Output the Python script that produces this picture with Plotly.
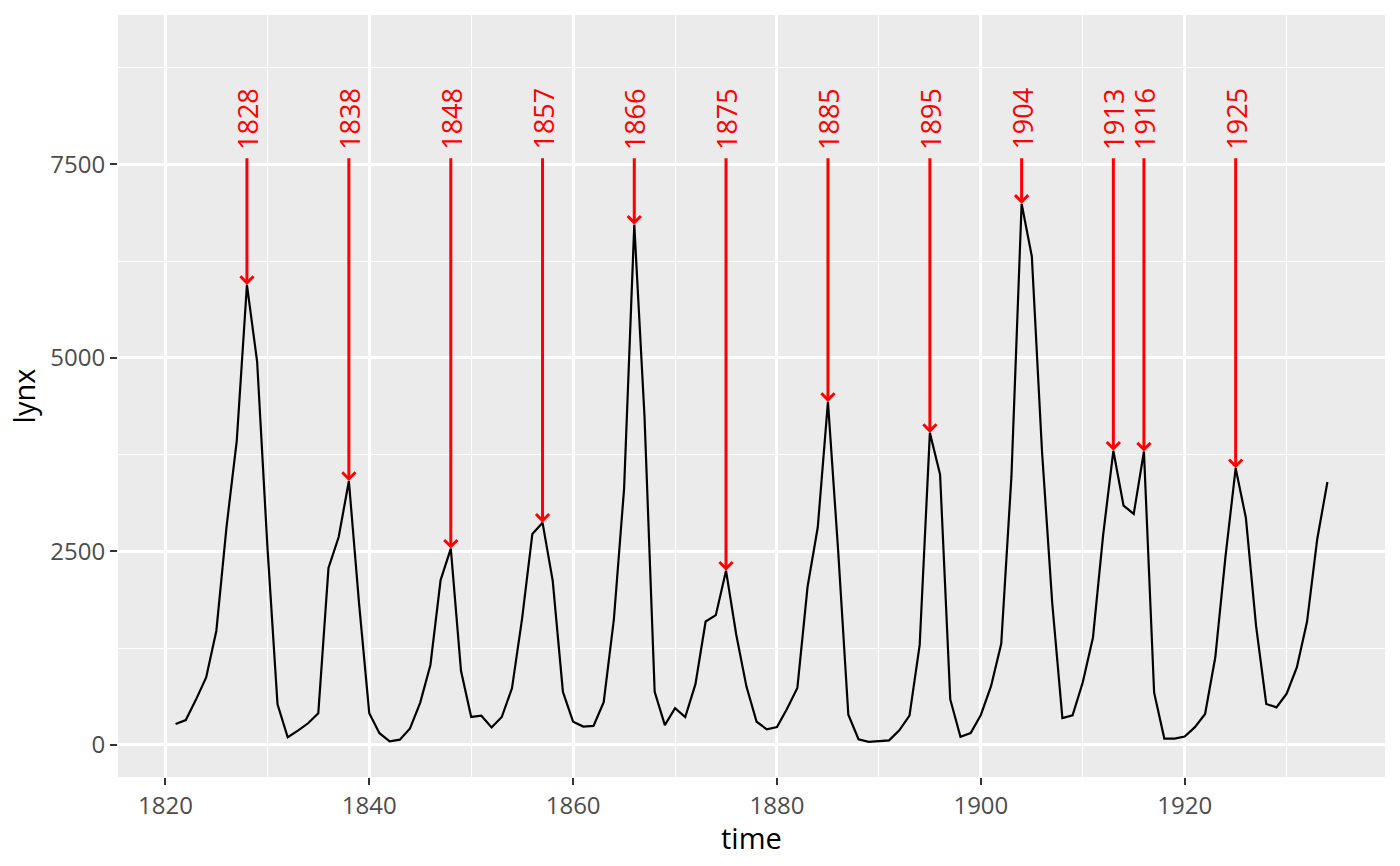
import plotly.graph_objects as go

years = list(range(1821, 1935))
lynx = [269, 321, 585, 871, 1475, 2821, 3928, 5943, 4950, 2577, 523, 98, 184, 279, 409,
        2285, 2685, 3409, 1824, 409, 151, 45, 68, 213, 546, 1033, 2129, 2536, 957, 361,
        377, 225, 360, 731, 1638, 2725, 2871, 2119, 684, 299, 236, 245, 552, 1623, 3311,
        6721, 4254, 687, 255, 473, 358, 784, 1594, 1676, 2251, 1426, 756, 299, 201, 229,
        469, 736, 2042, 2811, 4431, 2511, 389, 73, 39, 49, 59, 188, 377, 1292, 4031,
        3495, 587, 105, 153, 387, 758, 1307, 3465, 6991, 6313, 3794, 1836, 345, 382, 808,
        1388, 2713, 3800, 3091, 2985, 3790, 674, 81, 80, 108, 229, 399, 1132, 2432, 3574,
        2935, 1537, 529, 485, 662, 1000, 1590, 2657, 3396]

peak_years = [1828, 1838, 1848, 1857, 1866, 1875, 1885, 1895, 1904, 1913, 1916, 1925]
peak_values = [lynx[years.index(y)] for y in peak_years]
arrow_start = 7600
label_y = 7660

x_ticks = [1820, 1840, 1860, 1880, 1900, 1920]
y_ticks = [0, 2500, 5000, 7500]

fig = go.Figure()
fig.add_trace(go.Scatter(x=years, y=lynx, mode="lines",
                         line=dict(color="black", width=2.2), showlegend=False,
                         hoverinfo="skip"))

annotations = []
for yr, v in zip(peak_years, peak_values):
    annotations.append(dict(x=yr, y=v, ax=yr, ay=arrow_start, xref="x", yref="y",
                            axref="x", ayref="y", text="", showarrow=True,
                            arrowhead=4, arrowsize=0.85, arrowwidth=3,
                            arrowcolor="#FF0000", standoff=0))
    annotations.append(dict(x=yr, y=label_y, xref="x", yref="y", text=str(yr),
                            showarrow=False, textangle=-90, yanchor="bottom",
                            xanchor="center",
                            font=dict(family="Open Sans", size=27, color="#FF0000")))

annotations.append(dict(x=0.5, y=-0.0795, xref="paper", yref="paper", text="time",
                        showarrow=False, xanchor="center", yanchor="middle", borderpad=0,
                        font=dict(family="Open Sans", size=29, color="black")))

fig.update_layout(
    width=1400, height=866,
    margin=dict(l=118, r=15, t=15, b=89),
    paper_bgcolor="white", plot_bgcolor="#EBEBEB",
    font=dict(family="Open Sans", color="black"),
    annotations=annotations,
    xaxis=dict(range=[1815.35, 1939.65], tickvals=x_ticks, ticktext=[str(t) for t in x_ticks],
               showgrid=True, gridcolor="white", gridwidth=2.6,
               minor=dict(tickvals=[1830, 1850, 1870, 1890, 1910, 1930], showgrid=True,
                          gridcolor="white", gridwidth=1.3, ticks=""),
               ticks="outside", ticklen=7, tickwidth=2.2, tickcolor="#333333",
               tickfont=dict(size=24, color="#4D4D4D"), zeroline=False),
    yaxis=dict(range=[-415, 9430], tickvals=y_ticks, ticktext=[str(t) for t in y_ticks],
               showgrid=True, gridcolor="white", gridwidth=2.6,
               minor=dict(tickvals=[1250, 3750, 6250, 8750], showgrid=True,
                          gridcolor="white", gridwidth=1.3, ticks=""),
               ticks="outside", ticklen=7, tickwidth=2.2, tickcolor="#333333",
               tickfont=dict(size=24, color="#4D4D4D"), zeroline=False,
               title=dict(text="lynx", font=dict(size=29, color="black"), standoff=6)),
)

fig.write_html("out.html", config={"displayModeBar": False},
               post_script="document.body.style.margin='0';")
